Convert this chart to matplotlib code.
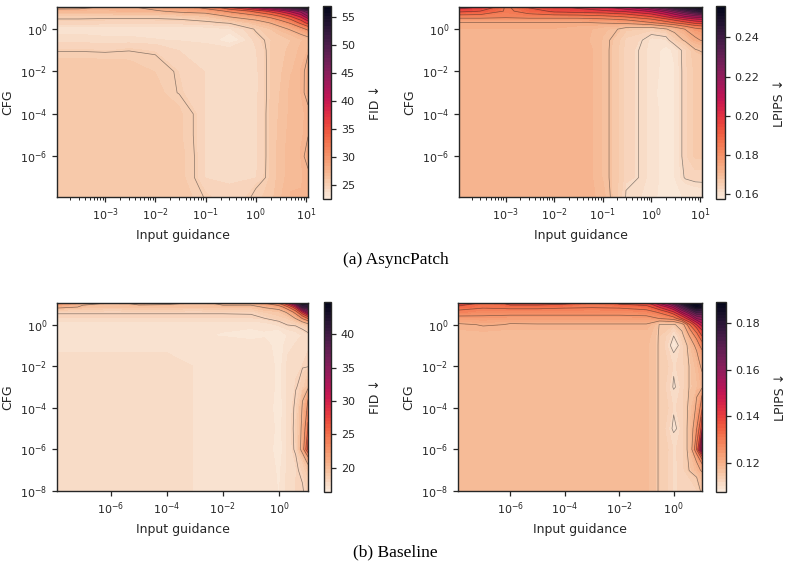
import matplotlib
matplotlib.use("Agg")
import matplotlib.pyplot as plt
import numpy as np
import seaborn as sns
from matplotlib.ticker import MultipleLocator, NullLocator

# grid of the AsyncPatch sweep (rows = CFG from high to low, cols = input guidance)
guidance_async = [1.1e-4, 3e-4, 1e-3, 3e-3, 1e-2, 3e-2, 1e-1, 3e-1, 1, 2, 3, 5, 8, 11]
cfg_async = [11, 7, 4, 2, 1, 0.3, 0.1, 1e-2, 1e-3, 1e-4, 1e-5, 1e-6, 1e-7, 1.2e-8]

fid_async = [
    [28.1, 28.0, 27.3, 27.4, 28.3, 29.2, 31.0, 35.5, 41.1, 44.8, 47.3, 51.0, 54.0, 57.0],
    [27.0, 27.0, 27.1, 27.3, 27.3, 28.2, 28.8, 30.5, 33.5, 36.0, 38.0, 41.0, 44.0, 47.0],
    [25.3, 25.3, 25.3, 25.3, 25.3, 25.5, 26.0, 27.8, 29.3, 31.0, 32.5, 35.2, 38.5, 42.6],
    [24.7, 24.7, 24.6, 24.6, 24.6, 24.6, 24.8, 25.2, 26.6, 27.7, 28.8, 30.5, 33.5, 36.2],
    [23.3, 23.3, 23.2, 23.2, 23.2, 23.2, 23.3, 23.6, 25.2, 26.0, 26.8, 27.8, 29.2, 30.6],
    [23.9, 23.9, 23.8, 23.8, 23.7, 23.6, 23.4, 22.5, 24.6, 25.4, 25.6, 26.0, 26.5, 26.8],
    [24.9, 24.9, 24.8, 24.95, 24.7, 24.2, 24.0, 23.9, 24.2, 25.5, 25.8, 26.2, 26.8, 27.2],
    [25.7, 25.7, 25.7, 25.6, 25.4, 24.8, 24.2, 23.9, 24.1, 25.5, 25.9, 26.5, 27.2, 27.9],
    [25.8, 25.8, 25.8, 25.7, 25.6, 24.9, 24.2, 23.9, 24.1, 25.5, 26.0, 26.8, 27.2, 27.95],
    [25.8, 25.8, 25.8, 25.8, 25.7, 25.5, 24.2, 23.9, 24.1, 25.6, 26.1, 26.8, 27.0, 27.4],
    [25.8, 25.8, 25.8, 25.8, 25.7, 25.5, 24.2, 23.9, 24.1, 25.6, 26.2, 26.9, 27.1, 27.4],
    [25.8, 25.8, 25.8, 25.8, 25.7, 25.6, 24.2, 23.9, 24.1, 25.6, 26.3, 27.0, 27.2, 27.95],
    [25.8, 25.8, 25.8, 25.8, 25.7, 25.6, 24.2, 23.9, 24.2, 25.6, 26.3, 27.0, 27.1, 27.4],
    [25.9, 25.9, 25.9, 25.9, 25.8, 25.7, 24.9, 24.5, 25.2, 25.8, 26.5, 27.2, 27.2, 27.4],
]

lpips_async = [
    [0.202, 0.198, 0.185, 0.193, 0.197, 0.1995, 0.2034, 0.2105, 0.2218, 0.2325, 0.2417, 0.2512, 0.2538, 0.256],
    [0.194, 0.192, 0.185, 0.189, 0.194, 0.1955, 0.197, 0.1995, 0.206, 0.214, 0.2205, 0.2298, 0.2378, 0.243],
    [0.1837, 0.1837, 0.1824, 0.1837, 0.1837, 0.1837, 0.185, 0.1876, 0.193, 0.1995, 0.2047, 0.2105, 0.214, 0.2153],
    [0.1737, 0.1737, 0.1737, 0.1737, 0.1737, 0.1737, 0.1744, 0.1757, 0.1797, 0.1837, 0.1863, 0.1903, 0.1942, 0.1955],
    [0.1724, 0.1724, 0.1724, 0.1724, 0.1724, 0.1717, 0.1697, 0.1664, 0.1651, 0.1677, 0.1704, 0.1744, 0.1784, 0.1797],
    [0.1724, 0.1724, 0.1724, 0.1724, 0.1724, 0.1717, 0.169, 0.1638, 0.1602, 0.1606, 0.1651, 0.169, 0.1731, 0.1744],
    [0.1724, 0.1724, 0.1724, 0.1724, 0.1724, 0.1724, 0.169, 0.1632, 0.1598, 0.1585, 0.1596, 0.1638, 0.1677, 0.1684],
    [0.1724, 0.1724, 0.1724, 0.1724, 0.1724, 0.1724, 0.169, 0.1632, 0.1598, 0.1583, 0.1591, 0.1638, 0.1664, 0.1664],
    [0.1724, 0.1724, 0.1724, 0.1724, 0.1724, 0.1724, 0.169, 0.1632, 0.1598, 0.1575, 0.1591, 0.1638, 0.1664, 0.1664],
    [0.1724, 0.1724, 0.1724, 0.1724, 0.1724, 0.1724, 0.169, 0.1632, 0.1598, 0.1583, 0.1591, 0.1638, 0.1664, 0.1664],
    [0.1724, 0.1724, 0.1724, 0.1724, 0.1724, 0.1724, 0.169, 0.1632, 0.1598, 0.1583, 0.1591, 0.1638, 0.1664, 0.1664],
    [0.1724, 0.1724, 0.1724, 0.1724, 0.1724, 0.1724, 0.169, 0.1632, 0.1598, 0.1583, 0.1591, 0.1638, 0.1664, 0.1664],
    [0.1724, 0.1724, 0.1724, 0.1724, 0.1724, 0.1724, 0.169, 0.1632, 0.1598, 0.1583, 0.1591, 0.1625, 0.1638, 0.1638],
    [0.1724, 0.1724, 0.1724, 0.1724, 0.1724, 0.1724, 0.1697, 0.1618, 0.1596, 0.1581, 0.1587, 0.1594, 0.1596, 0.1599],
]

# grid of the baseline sweep
guidance_base = [1.2e-8, 1e-7, 1e-6, 1e-5, 1e-4, 1e-3, 1e-2, 1e-1, 0.3, 1, 2, 4, 7, 11]
cfg_base = [11, 7, 4, 2, 1, 0.3, 0.1, 1e-2, 1e-3, 1e-4, 1e-5, 1e-6, 1e-7, 1e-8]

fid_base = [
    [22.5, 20.6, 19.8, 20.6, 20.4, 19.7, 20.6, 20.7, 22.1, 24.2, 28.5, 36.0, 44.8, 43.0],
    [20.6, 19.6, 19.3, 19.5, 19.5, 19.3, 19.6, 19.5, 20.2, 21.0, 23.5, 28.2, 38.0, 40.0],
    [18.1, 18.1, 18.1, 18.1, 18.1, 18.1, 18.1, 18.15, 18.8, 19.2, 20.3, 23.0, 28.2, 33.0],
    [17.8, 17.8, 17.8, 17.8, 17.8, 17.8, 17.8, 17.8, 17.98, 18.6, 18.8, 20.1, 22.2, 24.2],
    [17.05, 17.05, 17.05, 17.05, 17.05, 17.05, 17.05, 17.0, 17.1, 17.5, 18.05, 18.2, 18.8, 19.5],
    [16.98, 16.98, 16.98, 16.98, 16.98, 16.9, 16.84, 16.76, 16.8, 16.4, 16.9, 17.1, 17.4, 17.7],
    [17.27, 17.27, 17.27, 17.27, 17.27, 17.2, 17.13, 16.98, 17.05, 16.55, 17.2, 17.42, 17.56, 17.78],
    [17.42, 17.42, 17.42, 17.42, 17.42, 17.35, 17.27, 17.13, 17.13, 16.69, 17.42, 17.56, 17.85, 17.9],
    [17.42, 17.42, 17.42, 17.42, 17.42, 17.35, 17.27, 17.2, 17.13, 16.69, 17.49, 17.9, 18.6, 19.5],
    [17.42, 17.42, 17.42, 17.42, 17.42, 17.35, 17.27, 17.2, 17.13, 16.55, 17.5, 18.2, 20.2, 22.5],
    [17.42, 17.42, 17.42, 17.42, 17.42, 17.35, 17.27, 17.2, 17.13, 16.69, 17.5, 18.3, 20.6, 24.2],
    [17.42, 17.42, 17.42, 17.42, 17.42, 17.35, 17.27, 17.2, 17.13, 16.55, 17.5, 18.2, 21.0, 26.5],
    [17.42, 17.42, 17.42, 17.42, 17.42, 17.35, 17.27, 17.2, 17.13, 16.76, 17.5, 17.8, 18.4, 19.3],
    [17.42, 17.42, 17.42, 17.42, 17.42, 17.35, 17.27, 17.2, 17.13, 16.84, 17.56, 17.85, 17.93, 18.4],
]

lpips_base = [
    [0.142, 0.132, 0.139, 0.139, 0.137, 0.131, 0.137, 0.139, 0.1505, 0.1655, 0.1805, 0.188, 0.189, 0.186],
    [0.133, 0.131, 0.132, 0.132, 0.131, 0.1305, 0.131, 0.133, 0.1405, 0.152, 0.166, 0.1795, 0.186, 0.184],
    [0.1285, 0.127, 0.127, 0.127, 0.127, 0.127, 0.127, 0.128, 0.131, 0.1395, 0.1505, 0.162, 0.172, 0.172],
    [0.1235, 0.124, 0.1235, 0.1235, 0.1235, 0.1235, 0.1235, 0.1235, 0.1252, 0.128, 0.1355, 0.1455, 0.1555, 0.158],
    [0.1195, 0.1205, 0.1195, 0.1197, 0.1197, 0.1197, 0.1197, 0.1197, 0.1148, 0.1145, 0.1175, 0.1305, 0.1405, 0.148],
    [0.118, 0.118, 0.118, 0.118, 0.118, 0.118, 0.118, 0.118, 0.1145, 0.1102, 0.114, 0.121, 0.128, 0.1355],
    [0.1175, 0.1175, 0.1175, 0.1175, 0.1175, 0.1175, 0.1175, 0.1175, 0.1145, 0.1076, 0.1125, 0.117, 0.122, 0.128],
    [0.1175, 0.1175, 0.1175, 0.1175, 0.1175, 0.1175, 0.1175, 0.1175, 0.1145, 0.1115, 0.1125, 0.1155, 0.118, 0.121],
    [0.1175, 0.1175, 0.1175, 0.1175, 0.1175, 0.1175, 0.1175, 0.1175, 0.1145, 0.1095, 0.1125, 0.1155, 0.117, 0.119],
    [0.1175, 0.1175, 0.1175, 0.1175, 0.1175, 0.1175, 0.1175, 0.1175, 0.1145, 0.1115, 0.1125, 0.1165, 0.121, 0.128],
    [0.1175, 0.1175, 0.1175, 0.1175, 0.1175, 0.1175, 0.1175, 0.1175, 0.1145, 0.109, 0.1125, 0.117, 0.125, 0.138],
    [0.1175, 0.1175, 0.1175, 0.1175, 0.1175, 0.1175, 0.1175, 0.1175, 0.1145, 0.1115, 0.1125, 0.117, 0.1305, 0.1555],
    [0.1175, 0.1175, 0.1175, 0.1175, 0.1175, 0.1175, 0.1175, 0.1175, 0.1145, 0.1112, 0.1125, 0.1155, 0.118, 0.121],
    [0.1175, 0.1175, 0.1175, 0.1175, 0.1175, 0.1175, 0.1175, 0.1175, 0.1145, 0.1112, 0.1125, 0.112, 0.113, 0.116],
]

W, H = 791, 567


def box(left, top, right, bottom):
    # pixel box -> figure fraction
    return [left / W, 1 - bottom / H, (right - left) / W, (bottom - top) / H]


def draw_panel(fig, ax_box, cax_box, x, y, z, label, cb_step, xticks, yticks, minor_x):
    cmap = sns.color_palette("rocket_r", as_cmap=True)
    z = np.array(z)
    ax = fig.add_axes(box(*ax_box))
    cax = fig.add_axes(box(*cax_box))

    cf = ax.contourf(x, y, z, levels=np.linspace(z.min(), z.max(), 60), cmap=cmap)
    ax.contour(x, y, z, levels=16, colors="k", linewidths=0.5, alpha=0.5)

    ax.set_xscale("log")
    ax.set_yscale("log")
    ax.set_xticks(xticks)
    ax.set_yticks(yticks)
    ax.yaxis.set_minor_locator(NullLocator())
    if not minor_x:
        ax.xaxis.set_minor_locator(NullLocator())
    ax.set_xlabel("Input guidance")
    ax.set_ylabel("CFG")

    cb = fig.colorbar(cf, cax=cax)
    cb.set_ticks(MultipleLocator(cb_step))
    cb.set_label(label, labelpad=10)
    cb.outline.set_linewidth(1.0)
    cb.outline.set_edgecolor(".15")
    return ax


def main():
    sns.set_theme(style="ticks")
    plt.rcParams.update({
        "font.family": ["DejaVu Sans"],
        "font.size": 8,
        "axes.labelsize": 9,
        "xtick.labelsize": 8,
        "ytick.labelsize": 8,
        "xtick.major.size": 3.5,
        "ytick.major.size": 3.5,
        "xtick.minor.size": 2,
        "xtick.major.width": 0.9,
        "ytick.major.width": 0.9,
        "xtick.minor.width": 0.7,
        "axes.linewidth": 1.0,
    })

    fig = plt.figure(figsize=(7.91, 5.67), dpi=100)

    top_x = [1e-3, 1e-2, 1e-1, 1, 10]
    top_y = [1e-6, 1e-4, 1e-2, 1]
    bot_x = [1e-6, 1e-4, 1e-2, 1]
    bot_y = [1e-8, 1e-6, 1e-4, 1e-2, 1]

    draw_panel(fig, (57, 7, 308, 197), (323, 6, 331, 199),
               guidance_async, cfg_async, fid_async, "FID ↓", 5, top_x, top_y, True)
    draw_panel(fig, (459, 7, 702, 197), (716, 6, 725, 199),
               guidance_async, cfg_async, lpips_async, "LPIPS ↓", 0.02, top_x, top_y, True)
    draw_panel(fig, (57, 303, 308, 491), (324, 302, 331, 492),
               guidance_base, cfg_base, fid_base, "FID ↓", 5, bot_x, bot_y, False)
    draw_panel(fig, (458, 303, 702, 491), (716, 302, 726, 492),
               guidance_base, cfg_base, lpips_base, "LPIPS ↓", 0.02, bot_x, bot_y, False)

    fig.text(0.5, 1 - 260 / H, "(a) AsyncPatch", ha="center", va="center",
             family="Liberation Serif", size=12.5, color="black")
    fig.text(0.5, 1 - 552 / H, "(b) Baseline", ha="center", va="center",
             family="Liberation Serif", size=12.5, color="black")

    fig.savefig("out.png", dpi=100)


if __name__ == "__main__":
    main()
